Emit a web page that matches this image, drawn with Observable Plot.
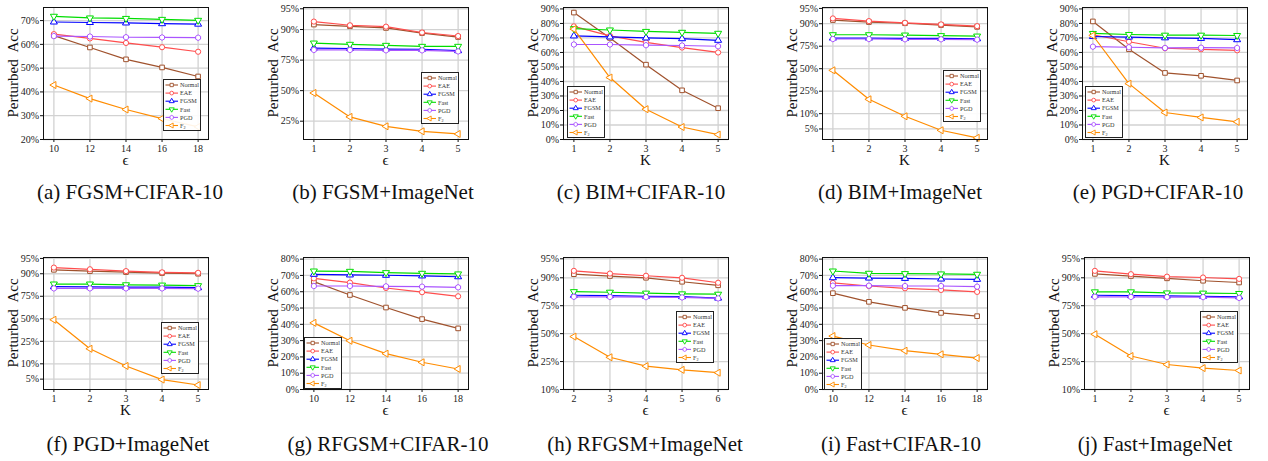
<!DOCTYPE html>
<html><head><meta charset="utf-8">
<script src="https://cdn.jsdelivr.net/npm/d3@7"></script>
<script src="https://cdn.jsdelivr.net/npm/@observablehq/plot@0.6"></script>
<style>
body{margin:0;background:#fff;}
#root{position:relative;width:1268px;height:461px;overflow:hidden;font-family:'Liberation Serif',serif;}
.panel{position:absolute;width:259px;height:185px;}
.panel svg{max-width:none !important;}
.cap{position:absolute;font-size:21px;color:#111;white-space:nowrap;transform:translate(-50%,-50%);}
.ylab{position:absolute;font-size:15px;color:#111;white-space:pre;transform:translate(-50%,-50%) rotate(-90deg);}
.xlab{position:absolute;font-size:15px;color:#111;transform:translate(-50%,-50%);}
.leg{position:absolute;}
</style></head>
<body><div id="root"></div>
<script>
// ---------- data (percent) ----------
const seriesNames = ["Normal", "EAE", "FGSM", "Fast", "PGD", "F2"];
const xEps10 = [10, 12, 14, 16, 18];
const xOneToFive = [1, 2, 3, 4, 5];
const xTwoToSix = [2, 3, 4, 5, 6];
const ticksCifar20 = [20, 30, 40, 50, 60, 70];
const ticksCifar90 = [0, 10, 20, 30, 40, 50, 60, 70, 80, 90];
const ticksCifar80 = [0, 10, 20, 30, 40, 50, 60, 70, 80];
const ticksImgA = [25, 50, 75, 90, 95];
const ticksImgB = [5, 10, 25, 50, 75, 90, 95];
const ticksImgC = [10, 25, 50, 75, 90, 95];

const fgsmCifar = [
  [63.7, 58.7, 53.7, 50.3, 46.5],
  [64.3, 62.5, 60.6, 58.8, 56.9],
  [69.4, 69.2, 69.0, 68.7, 68.5],
  [71.8, 71.1, 70.9, 70.5, 70.1],
  [63.5, 63.3, 63.0, 62.9, 62.8],
  [42.9, 37.2, 32.6, 28.8, 25.3]];
const fgsmImageNet = [
  [91.5, 91.0, 90.5, 88.8, 87.3],
  [92.3, 91.3, 90.9, 89.0, 87.7],
  [82.2, 82.0, 81.7, 81.6, 80.8],
  [84.7, 84.1, 83.6, 83.1, 83.1],
  [81.2, 81.2, 81.0, 81.0, 80.4],
  [47.9, 28.0, 21.7, 18.8, 17.4]];
const bimCifar = [
  [87.5, 70.0, 51.6, 33.9, 21.6],
  [78.0, 71.4, 67.0, 63.4, 60.0],
  [71.4, 70.7, 70.0, 69.5, 68.4],
  [76.4, 75.5, 74.5, 73.9, 73.2],
  [65.5, 65.5, 65.0, 64.8, 64.3],
  [76.1, 42.7, 20.9, 8.6, 3.4]];
const bimImageNet = [
  [91.5, 90.7, 90.2, 89.4, 88.5],
  [92.1, 91.1, 90.4, 89.7, 88.9],
  [81.7, 81.7, 81.5, 81.5, 81.2],
  [84.0, 84.0, 83.8, 83.4, 83.1],
  [81.0, 81.0, 80.8, 80.8, 80.5],
  [48.0, 18.3, 8.9, 4.7, 3.3]];
const pgdCifar = [
  [81.4, 62.2, 45.9, 43.9, 40.7],
  [72.2, 67.4, 62.9, 62.2, 61.5],
  [71.0, 70.6, 70.1, 69.7, 68.8],
  [73.1, 72.4, 71.9, 71.9, 71.7],
  [64.0, 63.6, 63.1, 63.3, 63.1],
  [71.7, 38.5, 18.6, 15.2, 12.2]];
const pgdImageNet = [
  [91.6, 91.1, 90.7, 90.3, 90.0],
  [92.4, 91.8, 91.1, 90.6, 90.4],
  [82.7, 82.6, 82.4, 82.4, 82.0],
  [84.5, 84.5, 84.0, 83.8, 83.4],
  [81.5, 81.5, 81.5, 81.5, 81.3],
  [48.8, 18.8, 9.1, 4.9, 3.8]];
const rfgsmCifar = [
  [66.2, 58.0, 50.3, 43.2, 37.5],
  [68.2, 65.6, 62.3, 59.7, 57.2],
  [70.7, 70.3, 70.1, 69.7, 69.2],
  [72.7, 72.5, 71.7, 71.3, 70.9],
  [63.5, 63.5, 63.3, 63.1, 62.7],
  [40.9, 29.9, 22.0, 16.7, 12.6]];
const rfgsmImageNet = [
  [91.2, 90.6, 90.0, 88.5, 87.0],
  [92.2, 91.4, 90.7, 90.0, 88.1],
  [81.9, 81.7, 81.3, 81.1, 80.2],
  [83.9, 83.6, 83.1, 82.7, 82.5],
  [81.0, 80.9, 80.8, 80.6, 80.0],
  [47.1, 28.3, 21.8, 19.4, 17.7]];
const fastCifar = [
  [59.1, 53.8, 50.1, 47.0, 45.0],
  [65.4, 63.5, 62.1, 61.1, 59.9],
  [68.6, 68.4, 68.2, 67.8, 67.6],
  [72.7, 71.3, 71.1, 70.9, 70.7],
  [63.7, 63.7, 63.5, 63.5, 63.1],
  [32.8, 27.3, 23.8, 21.6, 19.3]];
const fastImageNet = [
  [91.3, 90.6, 89.8, 88.9, 88.2],
  [92.2, 91.2, 90.4, 90.1, 89.6],
  [81.9, 81.7, 81.5, 81.3, 81.0],
  [83.8, 83.8, 83.2, 83.1, 82.9],
  [81.0, 80.9, 80.8, 80.8, 80.3],
  [49.4, 29.3, 22.9, 20.5, 19.0]];

// ---------- styles ----------
const colors = ["#a0522d", "#ff4d4d", "#0000ff", "#00dd00", "#aa55ff", "#ff8c00"];
const SQ3 = Math.sqrt(3);
const triDown = {draw(c, s) { const y = -Math.sqrt(s / (SQ3 * 3)); c.moveTo(0, -2 * y); c.lineTo(-SQ3 * y, y); c.lineTo(SQ3 * y, y); c.closePath(); }};
const triLeft = {draw(c, s) { const y = -Math.sqrt(s / (SQ3 * 3)); c.moveTo(2 * y, 0); c.lineTo(-y, -SQ3 * y); c.lineTo(-y, SQ3 * y); c.closePath(); }};
const hexa = {draw(c, s) { const r = Math.sqrt(2 * s / (3 * SQ3)); for (let k = 0; k < 6; k++) { const a = Math.PI / 2 + k * Math.PI / 3; const px = r * Math.cos(a), py = r * Math.sin(a); k ? c.lineTo(px, py) : c.moveTo(px, py); } c.closePath(); }};
const symbols = [d3.symbolSquare, d3.symbolCircle, d3.symbolTriangle, triDown, hexa, triLeft];

const logit = p => Math.log(p / (1 - p));

const panels = [
  {data: fgsmCifar, xs: xEps10, xLabel: "ϵ", lg: false, yDomain: [20, 75.5], yTicks: ticksCifar20, left: 0, top: 0, cap: "(a) FGSM+CIFAR-10", capX: 130, leg: [163, 79]},
  {data: fgsmImageNet, xs: xOneToFive, xLabel: "ϵ", lg: true, yDomain: [-1.757, 2.99], yTicks: ticksImgA, left: 260, top: 0, cap: "(b) FGSM+ImageNet", capX: 383, leg: [421, 72]},
  {data: bimCifar, xs: xOneToFive, xLabel: "K", lg: false, yDomain: [0, 91], yTicks: ticksCifar90, left: 520, top: 0, cap: "(c) BIM+CIFAR-10", capX: 641, leg: [567, 86]},
  {data: bimImageNet, xs: xOneToFive, xLabel: "K", lg: true, yDomain: [-3.46, 2.99], yTicks: ticksImgB, left: 779, top: 0, cap: "(d) BIM+ImageNet", capX: 900, leg: [943, 70]},
  {data: pgdCifar, xs: xOneToFive, xLabel: "K", lg: false, yDomain: [0, 91], yTicks: ticksCifar90, left: 1039, top: 0, cap: "(e) PGD+CIFAR-10", capX: 1158, leg: [1085, 86]},
  {data: pgdImageNet, xs: xOneToFive, xLabel: "K", lg: true, yDomain: [-3.45, 2.99], yTicks: ticksImgB, left: 0, top: 250, cap: "(f) PGD+ImageNet", capX: 128, leg: [161, 322]},
  {data: rfgsmCifar, xs: xEps10, xLabel: "ϵ", lg: false, yDomain: [0, 81], yTicks: ticksCifar80, left: 260, top: 250, cap: "(g) RFGSM+CIFAR-10", capX: 388, leg: [304, 337]},
  {data: rfgsmImageNet, xs: xTwoToSix, xLabel: "ϵ", lg: true, yDomain: [-2.197, 2.995], yTicks: ticksImgC, left: 520, top: 250, cap: "(h) RFGSM+ImageNet", capX: 645, leg: [676, 311]},
  {data: fastCifar, xs: xEps10, xLabel: "ϵ", lg: false, yDomain: [0, 81], yTicks: ticksCifar80, left: 779, top: 250, cap: "(i) Fast+CIFAR-10", capX: 901, leg: [824, 338]},
  {data: fastImageNet, xs: xOneToFive, xLabel: "ϵ", lg: true, yDomain: [-2.197, 2.995], yTicks: ticksImgC, left: 1041, top: 250, cap: "(j) Fast+ImageNet", capX: 1155, leg: [1200, 311]}
];

const root = document.getElementById("root");
const ML = 43, MT = 7, FW = 165, FH = 132, W = 259, H = 185;

for (const p of panels) {
  const rows = [];
  p.data.forEach((vals, si) => vals.forEach((v, i) => rows.push({x: p.xs[i], v, s: si})));
  const yOf = p.lg ? d => logit(d.v / 100) : d => d.v;
  const yT = p.lg ? p.yTicks.map(t => logit(t / 100)) : p.yTicks;
  const yFmt = p.lg ? t => Math.round(100 / (1 + Math.exp(-t))) + "%" : t => t + "%";
  const span = p.xs[p.xs.length - 1] - p.xs[0];
  const pad = span * 0.072;
  const marks = [
    Plot.gridX(p.xs, {stroke: "#d2d2d2", strokeOpacity: 1, strokeWidth: 1.3}),
    Plot.gridY(yT, {stroke: "#d2d2d2", strokeOpacity: 1, strokeWidth: 1.3})
  ];
  p.data.forEach((vals, si) => {
    const sub = rows.filter(r => r.s === si);
    marks.push(Plot.line(sub, {x: "x", y: yOf, stroke: colors[si], strokeWidth: 1.2}));
    marks.push(Plot.dot(sub, {x: "x", y: yOf, stroke: colors[si], fill: "white", symbol: symbols[si], r: 2.6, strokeWidth: 1}));
  });
  marks.push(Plot.frame({stroke: "#111", strokeWidth: 1}));
  marks.push(Plot.axisX(p.xs, {tickSize: 3, tickPadding: 2, tickFormat: d => d, label: null, stroke: "#111", fill: "#222"}));
  marks.push(Plot.axisY(yT, {tickSize: 3, tickPadding: 1.5, tickFormat: yFmt, label: null, stroke: "#111", fill: "#222"}));
  const chart = Plot.plot({
    width: W, height: H, marginLeft: ML, marginRight: W - ML - FW, marginTop: MT, marginBottom: H - MT - FH,
    x: {domain: [p.xs[0] - pad, p.xs[p.xs.length - 1] + pad]},
    y: {domain: p.yDomain},
    style: {fontFamily: "'Liberation Serif', serif", fontSize: "10px", background: "transparent", overflow: "visible", maxWidth: "none"},
    marks
  });
  const div = document.createElement("div");
  div.className = "panel";
  div.style.left = p.left + "px";
  div.style.top = p.top + "px";
  div.appendChild(chart);
  root.appendChild(div);

  const yl = document.createElement("div");
  yl.className = "ylab";
  yl.textContent = "Perturbed  Acc";
  yl.style.left = (p.left + ML - 30) + "px";
  yl.style.top = (p.top + MT + FH / 2) + "px";
  root.appendChild(yl);

  const xl = document.createElement("div");
  xl.className = "xlab";
  xl.textContent = p.xLabel;
  xl.style.left = (p.left + ML + FW / 2) + "px";
  xl.style.top = (p.top + MT + FH + 21) + "px";
  root.appendChild(xl);

  const cap = document.createElement("div");
  cap.className = "cap";
  cap.textContent = p.cap;
  cap.style.left = p.capX + "px";
  cap.style.top = (p.top === 0 ? 192 : 444) + "px";
  root.appendChild(cap);

  // legend
  const lw = 38, lh = 52;
  const svg = d3.create("svg").attr("class", "leg").attr("width", lw).attr("height", lh)
    .style("left", p.leg[0] + "px").style("top", p.leg[1] + "px");
  svg.append("rect").attr("x", 0.5).attr("y", 0.5).attr("width", lw - 1).attr("height", lh - 1)
    .attr("fill", "white").attr("fill-opacity", 0.9).attr("stroke", "#222").attr("stroke-width", 1);
  seriesNames.forEach((name, i) => {
    const y = 6 + i * 8.1;
    svg.append("line").attr("x1", 2.5).attr("x2", 15).attr("y1", y).attr("y2", y).attr("stroke", colors[i]).attr("stroke-width", 1.1);
    svg.append("path").attr("d", d3.symbol(symbols[i], 11)()).attr("transform", `translate(8.7,${y})`)
      .attr("fill", "white").attr("stroke", colors[i]).attr("stroke-width", 0.9);
    const t = svg.append("text").attr("x", 17).attr("y", y + 2.2).attr("font-size", 6.2)
      .attr("font-family", "'Liberation Serif', serif").attr("fill", "#333");
    if (name === "F2") {
      t.append("tspan").text("F");
      t.append("tspan").attr("dy", 1.3).attr("font-size", 4.2).text("2");
    } else t.text(name);
  });
  root.appendChild(svg.node());
}
</script></body></html>
